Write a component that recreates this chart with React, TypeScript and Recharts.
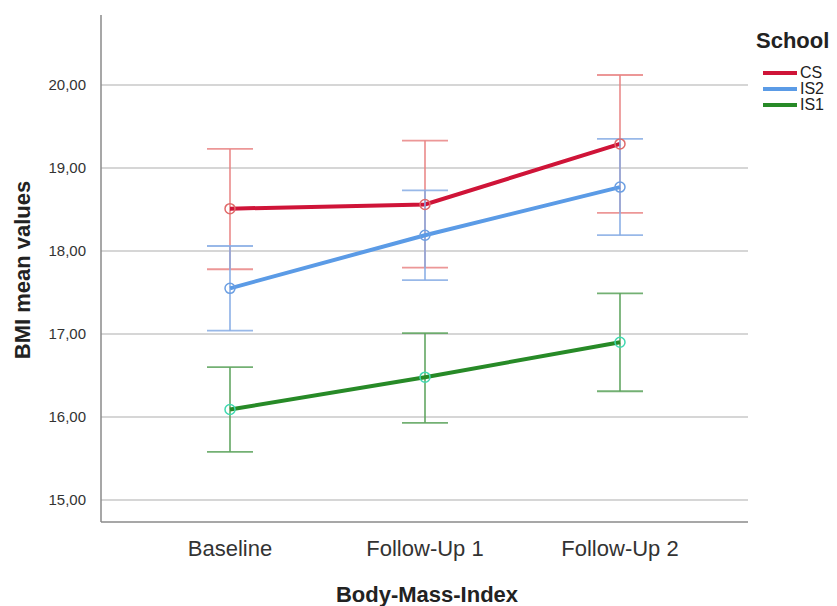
import React from 'react';
import { LineChart, Line, XAxis, YAxis, CartesianGrid, ErrorBar, Label } from 'recharts';

const categories = ['Baseline', 'Follow-Up 1', 'Follow-Up 2'];
const csMean = [18.51, 18.56, 19.29];
const csLow = [17.78, 17.80, 18.46];
const csHigh = [19.23, 19.33, 20.12];
const is2Mean = [17.55, 18.19, 18.77];
const is2Low = [17.04, 17.65, 18.19];
const is2High = [18.06, 18.73, 19.35];
const is1Mean = [16.09, 16.48, 16.90];
const is1Low = [15.58, 15.93, 16.31];
const is1High = [16.60, 17.01, 17.49];
const yTicks = [15, 16, 17, 18, 19, 20];

const data = categories.map((c, i) => ({
  name: c,
  CS: csMean[i],
  csErr: [csMean[i] - csLow[i], csHigh[i] - csMean[i]],
  IS2: is2Mean[i],
  is2Err: [is2Mean[i] - is2Low[i], is2High[i] - is2Mean[i]],
  IS1: is1Mean[i],
  is1Err: [is1Mean[i] - is1Low[i], is1High[i] - is1Mean[i]],
}));

const series = [
  { key: 'CS', err: 'csErr', color: '#cf1438', errColor: '#e98585', dot: '#e06a6a' },
  { key: 'IS2', err: 'is2Err', color: '#5b9be6', errColor: '#86abe4', dot: '#6c9fe2' },
  { key: 'IS1', err: 'is1Err', color: '#278a27', errColor: '#5aa25a', dot: '#3fd8b0' },
];

const font = '"Liberation Sans", Arial, sans-serif';

export default function App() {
  return (
    <div style={{ position: 'absolute', left: 0, top: 0, width: 837, height: 606, background: '#fff', fontFamily: font }}>
      <LineChart width={837} height={606} data={data} margin={{ top: 15, right: 89, bottom: 0, left: 0 }}>
        <CartesianGrid horizontal vertical={false} horizontalValues={yTicks} stroke="#c8c8c8" strokeWidth={1.5} />
        <XAxis
          dataKey="name"
          type="category"
          padding={{ left: 129, right: 128 }}
          height={84}
          tickLine={false}
          tickSize={8}
          tickMargin={10}
          axisLine={{ stroke: '#8a8a8a', strokeWidth: 1.5 }}
          tick={{ fill: '#333', fontSize: 22, fontFamily: font }}
        >
          <Label
            content={() => (
              <text x={427} y={602} textAnchor="middle" fontFamily={font} fontSize={22} fontWeight="bold" fill="#222">
                Body-Mass-Index
              </text>
            )}
          />
        </XAxis>
        <YAxis
          type="number"
          domain={[14.735, 20.843]}
          ticks={yTicks}
          allowDataOverflow
          width={101}
          tickLine={false}
          tickMargin={9}
          axisLine={{ stroke: '#8a8a8a', strokeWidth: 1.5 }}
          tick={{ fill: '#333', fontSize: 15, fontFamily: font }}
          tickFormatter={(v: number) => v.toFixed(2).replace('.', ',')}
        >
          <Label
            content={() => (
              <text x={30} y={270} transform="rotate(-90 30 270)" textAnchor="middle" fontFamily={font} fontSize={22} fontWeight="bold" fill="#222">
                BMI mean values
              </text>
            )}
          />
        </YAxis>
        {series.map((s) => (
          <Line
            key={s.key}
            dataKey={s.key}
            stroke={s.color}
            strokeWidth={4}
            isAnimationActive={false}
            dot={{ r: 5, fill: 'none', stroke: s.dot, strokeWidth: 1.5 }}
            activeDot={false}
          >
            <ErrorBar dataKey={s.err} direction="y" width={23} stroke={s.errColor} strokeWidth={1.8} strokeOpacity={0.85} />
          </Line>
        ))}
      </LineChart>
      <div style={{ position: 'absolute', left: 756, top: 28, fontFamily: font }}>
        <div style={{ fontSize: 22, fontWeight: 'bold', color: '#222', lineHeight: '26px' }}>School</div>
        <div style={{ marginTop: 11 }}>
          {series.map((s) => (
            <div key={s.key} style={{ display: 'flex', alignItems: 'center', height: 16 }}>
              <div style={{ width: 34, height: 4, background: s.color, marginLeft: 7, marginRight: 3 }} />
              <span style={{ fontSize: 16, color: '#222' }}>{s.key}</span>
            </div>
          ))}
        </div>
      </div>
    </div>
  );
}
